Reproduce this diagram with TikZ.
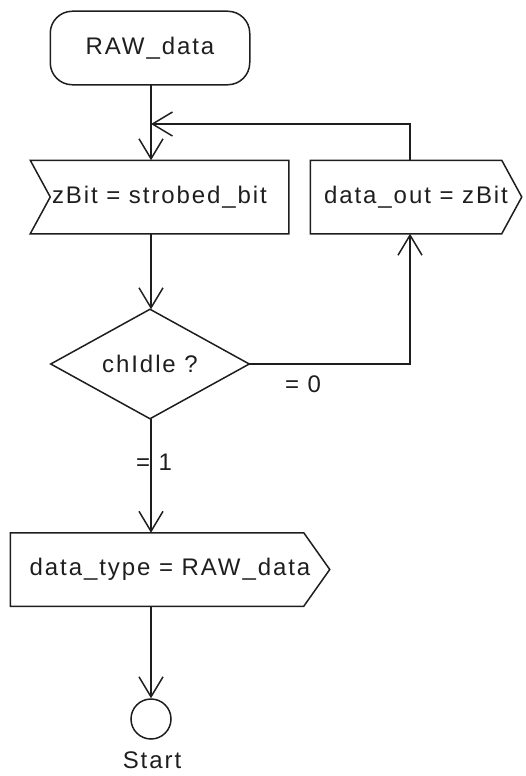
\documentclass[tikz,border=0pt]{standalone}
\usepackage{fontspec}
\newfontfamily\dfont[LetterSpace=8]{Liberation Sans}
\usetikzlibrary{arrows.meta}
\definecolor{ink}{RGB}{30,30,30}
\begin{document}
\begin{tikzpicture}[x=1pt,y=-1pt,
  line width=1.5pt,
  lbl/.style={font=\dfont\fontsize{24}{28}\selectfont, text=ink, inner sep=0pt},
  box/.style={lbl, minimum height=72pt},
  outline/.style={draw=ink, line width=1.5pt, line join=miter},
  arr/.style={draw=ink, line width=1.5pt, -{Straight Barb[length=20pt,width=24pt]}}]
\useasboundingbox (0,0) rectangle (526,776);
\coordinate (merge) at (151,124);
\coordinate (loop) at (410,124);
% terminal
\node[box, minimum width=198pt] (term) at (150,48) {RAW\_data};
\draw[outline, rounded corners=22pt] (term.north west) rectangle (term.south east);
% input box
\node[box, minimum width=257pt] (b1) at (159.5,197) {zBit = strobed\_bit};
\draw[outline] (b1.north west) -- (b1.north east) -- (b1.south east) -- (b1.south west) -- ([xshift=20pt]b1.west) -- cycle;
% output box right
\node[box, minimum width=210pt] (b2) at (416,197) {data\_out = zBit};
\draw[outline] (b2.north west) -- ([xshift=-20pt]b2.north east) -- (b2.east) -- ([xshift=-20pt]b2.south east) -- (b2.south west) -- cycle;
% decision
\node[lbl, minimum width=197pt, minimum height=108pt] (dia) at (150,364) {chIdle ?};
\draw[outline] (dia.north) -- (dia.east) -- (dia.south) -- (dia.west) -- cycle;
% output box bottom
\node[box, minimum width=318pt] (b3) at (170,569.5) {data\_type = RAW\_data};
\draw[outline] (b3.north west) -- ([xshift=-26pt]b3.north east) -- (b3.east) -- ([xshift=-26pt]b3.south east) -- (b3.south west) -- cycle;
% end
\node[circle, draw=ink, line width=1.5pt, minimum size=40pt, inner sep=0pt] (stop) at (151,719) {};
\node[lbl] (stoplbl) at (152,760) {Start};
% connectors
\draw[arr] (term.south -| merge) -- (b1.north -| merge);
\draw[arr] (b2.north -| loop) -- (loop) -- (merge);
\draw[arr] (b1.south -| merge) -- (dia.north -| merge);
\draw[arr] (dia.east) -| (b2.south -| loop);
\node[lbl] (l0) at (303,384) {= 0};
\draw[arr] (dia.south -| merge) -- (b3.north -| merge);
\node[lbl] (l1) at (154,462) {= 1};
\draw[arr] (b3.south -| merge) -- (stop.north);
\end{tikzpicture}
\end{document}
